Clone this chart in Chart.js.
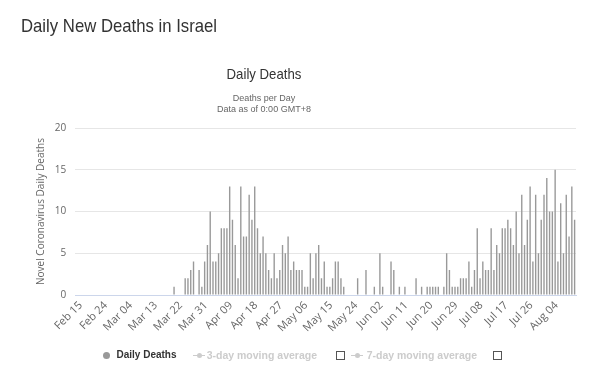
<!DOCTYPE html>
<html><head><meta charset="utf-8">
<script src="https://cdn.jsdelivr.net/npm/chart.js@4.4.1/dist/chart.umd.min.js"></script>
<style>
html,body{margin:0;padding:0;background:#fff;}
#wrap{position:relative;width:602px;height:377px;overflow:hidden;font-family:"Liberation Sans",Arial,sans-serif;}
canvas{position:absolute;left:0;top:0;}
.t{position:absolute;white-space:nowrap;}
.lg{position:absolute;white-space:nowrap;font-weight:bold;font-size:10px;line-height:10px;}
.box{position:absolute;width:9px;height:9px;border:1px solid #555;background:#fff;box-sizing:border-box;}
.ln{position:absolute;height:1px;background:#ccc;}
.dot{position:absolute;border-radius:50%;}
</style></head><body>
<div id="wrap">
<canvas id="c" width="602" height="377"></canvas>
<div class="t" id="heading" style="left:21px;top:16.2px;font-size:19px;line-height:19px;color:#333;transform:scaleX(.88);transform-origin:0 0;">Daily New Deaths in Israel</div>
<div class="t" id="ctitle" style="left:0;width:528px;text-align:center;top:66px;font-size:15px;line-height:15px;color:#333;transform:scaleX(.88);transform-origin:50% 0;">Daily Deaths</div>
<div class="t" id="csub" style="left:0;width:528px;text-align:center;top:93.2px;font-size:9px;line-height:11.3px;color:#666;">Deaths per Day<br>Data as of 0:00 GMT+8</div>
<!-- legend -->
<span class="dot" style="left:103px;top:351.5px;width:7px;height:7px;background:#999;"></span>
<span class="lg" style="left:116.5px;top:350px;color:#333;">Daily Deaths</span>
<span class="ln" style="left:192.7px;top:355px;width:12.5px;"></span>
<span class="dot" style="left:196.5px;top:352.7px;width:5px;height:5px;background:#ccc;"></span>
<span class="lg" style="left:206.7px;top:350px;color:#ccc;font-size:10.5px;">3-day moving average</span>
<span class="box" style="left:335.5px;top:351px;"></span>
<span class="ln" style="left:350.7px;top:355px;width:12.5px;"></span>
<span class="dot" style="left:354.5px;top:352.7px;width:5px;height:5px;background:#ccc;"></span>
<span class="lg" style="left:366.7px;top:350px;color:#ccc;font-size:10.5px;">7-day moving average</span>
<span class="box" style="left:492.5px;top:351px;"></span>
</div>
<script>
// ---- data ----
const startDate = '2020-02-15';
const monthNames = ['Jan','Feb','Mar','Apr','May','Jun','Jul','Aug','Sep','Oct','Nov','Dec'];
const deaths = [
0,0,0,0,0,0,0,0,0,0,
0,0,0,0,0,0,0,0,0,0,
0,0,0,0,0,0,0,0,0,0,
0,0,0,0,0,1,0,0,0,2,
2,3,4,0,3,1,4,6,10,4,
4,5,8,8,8,13,9,6,2,13,
7,7,12,9,13,8,5,7,5,3,
2,5,2,3,6,5,7,3,4,3,
3,3,1,1,5,2,5,6,2,4,
1,1,2,4,4,2,1,0,0,0,
0,2,0,0,3,0,0,1,0,5,
1,0,0,4,3,0,1,0,1,0,
0,0,2,0,1,0,1,1,1,1,
1,0,1,5,3,1,1,1,2,2,
2,4,1,3,8,2,4,3,3,8,
3,6,5,8,8,9,8,6,10,5,
12,6,9,13,4,12,5,9,12,14,
10,10,15,4,11,5,12,7,13,9
];
const tickLabels = ['Feb 15','Feb 24','Mar 04','Mar 13','Mar 22','Mar 31','Apr 09','Apr 18','Apr 27','May 06','May 15','May 24','Jun 02','Jun 11','Jun 20','Jun 29','Jul 08','Jul 17','Jul 26','Aug 04'];
const yTicks = [0,5,10,15,20];

const categories = [];
(function(){
  const d0 = new Date(startDate + 'T00:00:00Z');
  for (let i = 0; i < deaths.length; i++) {
    const d = new Date(d0.getTime() + i * 86400000);
    categories.push(monthNames[d.getUTCMonth()] + ' ' + String(d.getUTCDate()).padStart(2,'0'));
  }
})();

new Chart(document.getElementById('c'), {
  type: 'bar',
  data: {
    labels: categories,
    datasets: [{
      label: 'Daily Deaths',
      data: deaths,
      backgroundColor: '#999999',
      borderWidth: 0,
      barPercentage: 0.5,
      categoryPercentage: 1.0
    }]
  },
  options: {
    responsive: false,
    animation: false,
    events: [],
    layout: { padding: { left: 30, right: 26, top: 128, bottom: 0 } },
    plugins: { legend: { display: false }, tooltip: { enabled: false }, title: { display: false } },
    scales: {
      x: {
        grid: { display: false, drawTicks: false },
        border: { display: true, color: '#ccd6eb' },
        ticks: {
          autoSkip: false, maxRotation: 45, minRotation: 45, padding: 4, labelOffset: 4,
          color: '#666', font: { family: '"Open Sans", sans-serif', size: 11 },
          callback: function(v, i) { const c = categories[i]; return tickLabels.includes(c) ? c : ''; }
        },
        afterFit: function(s) { s.height = 82; }
      },
      y: {
        min: 0, max: 20,
        afterBuildTicks: function(s) { s.ticks = yTicks.map(v => ({ value: v })); },
        grid: { drawTicks: false, color: function(ctx){ return ctx.tick && ctx.tick.value === 0 ? 'rgba(0,0,0,0)' : '#e6e6e6'; } },
        border: { display: false },
        ticks: { padding: 9, color: '#666', font: { family: '"Open Sans", sans-serif', size: 10 } },
        title: { display: true, text: 'Novel Coronavirus Daily Deaths', color: '#666', padding: { top: 5, bottom: 0 }, font: { family: '"Open Sans", sans-serif', size: 10 } },
        afterFit: function(s) { s.width = 45.3; }
      }
    }
  }
});
</script>
</body></html>
